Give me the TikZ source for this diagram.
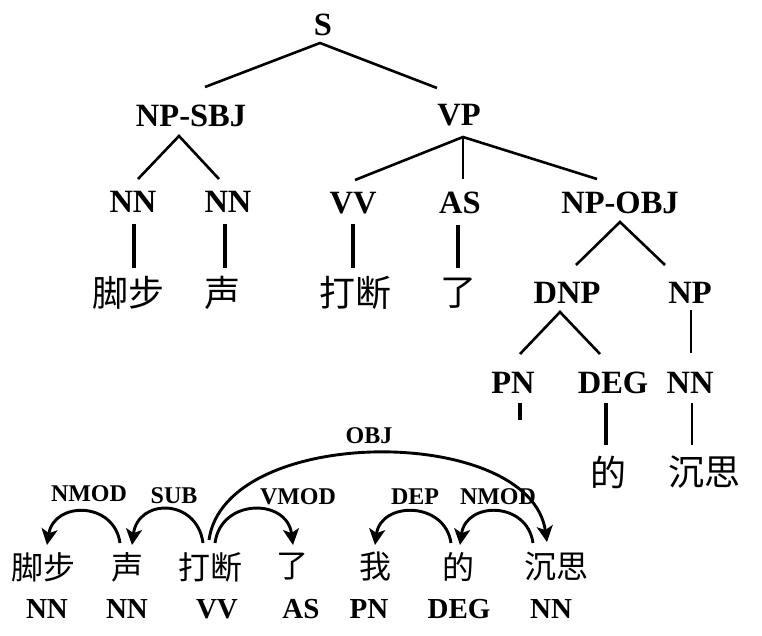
\documentclass[tikz,border=0pt]{standalone}
\usepackage{fontspec}
\setmainfont{Liberation Serif}
\newfontfamily\cjk{Noto Sans CJK SC}
\usetikzlibrary{arrows.meta}
\begin{document}
\begin{tikzpicture}[x=1pt,y=-1pt,
 cat/.style={font=\bfseries\fontsize{32.5}{32.5}\selectfont, inner sep=0pt, outer sep=0pt, anchor=base},
 postag/.style={font=\bfseries\fontsize{29}{29}\selectfont, inner sep=0pt, outer sep=0pt, anchor=base},
 rel/.style={font=\bfseries\fontsize{24}{24}\selectfont, inner sep=0pt, outer sep=0pt, anchor=base},
 hz/.style={font=\cjk\fontsize{36}{36}\selectfont, inner sep=0pt, outer sep=0pt, anchor=center},
 hzb/.style={font=\cjk\fontsize{32}{32}\selectfont, inner sep=0pt, outer sep=0pt, anchor=center},
 branch/.style={line width=2.6pt},
 stem/.style={line width=3.2pt},
 deparc/.style={line width=2.9pt, -{Stealth[length=16pt,width=16pt,inset=4pt]}},
]
\useasboundingbox[fill=white] (0,0) rectangle (762,635);

% ---------- constituency tree ----------
\node[cat] (S) at (323,35) {S};
\node[cat] (NPSBJ) at (191,126) {NP-SBJ};
\node[cat] (VP) at (459,125) {VP};
\node[cat] (NN1) at (133,212) {NN};
\node[cat] (NN2) at (228,212) {NN};
\node[cat] (VV) at (353,213) {VV};
\node[cat] (AS) at (460,213) {AS};
\node[cat] (NPOBJ) at (620,213) {NP-OBJ};
\node[hz] (t1) at (128,293) {脚步};
\node[hz] (t2) at (222,293) {声};
\node[hz] (t3) at (355,293) {打断};
\node[hz] (t4) at (458,293) {了};
\node[cat] (DNP) at (567,303) {DNP};
\node[cat] (NP) at (690,303) {NP};
\node[cat] (PN) at (513,393) {PN};
\node[cat] (DEG) at (613,393) {DEG};
\node[cat] (NN3) at (690,393) {NN};
\node[hz] (t6) at (608,472) {的};
\node[hz] (t7) at (704,472) {沉思};
\coordinate (PNstub) at (520,420);

\draw[branch] ([shift={(14,-39)}]NPSBJ.base) -- ([shift={(-3,8)}]S.base) -- ([shift={(-22,-37)}]VP.base);
\draw[branch] ([shift={(5,-33)}]NN1.base) -- ([shift={(-12,10)}]NPSBJ.base) -- ([shift={(-9,-33)}]NN2.base);
\draw[branch] ([shift={(2,-33)}]VV.base) -- ([shift={(4,12)}]VP.base) -- ([shift={(-23,-34)}]NPOBJ.base);
\draw[branch] ([shift={(4,12)}]VP.base) -- ([shift={(3,-34)}]AS.base);
\draw[branch] ([shift={(9,-38)}]DNP.base) -- ([shift={(0,9)}]NPOBJ.base) -- ([shift={(-25,-38)}]NP.base);
\draw[branch] ([shift={(7,-39)}]PN.base) -- ([shift={(-7,9)}]DNP.base) -- ([shift={(-13,-39)}]DEG.base);

\draw[stem] ([shift={(1,12)}]NN1.base) -- ([shift={(6,-25)}]t1.center);
\draw[stem] ([shift={(-3,12)}]NN2.base) -- ([shift={(3,-25)}]t2.center);
\draw[stem] ([shift={(0,11)}]VV.base) -- ([shift={(-2,-25)}]t3.center);
\draw[stem] ([shift={(-2,12)}]AS.base) -- ([shift={(0,-25)}]t4.center);
\draw[branch] ([shift={(1,7)}]NP.base) -- ([shift={(1,-40)}]NN3.base);
\draw[stem] ([shift={(7,10)}]PN.base) -- (PNstub);
\draw[stem] ([shift={(-7,10)}]DEG.base) -- ([shift={(-2,-27)}]t6.center);
\draw[branch] ([shift={(2,10)}]NN3.base) -- ([shift={(-12,-27)}]t7.center);

% ---------- dependency structure ----------
\node[hzb] (w1) at (43,567) {脚步};
\node[hzb] (w2) at (127,567) {声};
\node[hzb] (w3) at (210,567) {打断};
\node[hzb] (w4) at (292,567) {了};
\node[hzb] (w5) at (375,567) {我};
\node[hzb] (w6) at (458,567) {的};
\node[hzb] (w7) at (556,567) {沉思};

\node[postag] (p1) at (47,618) {NN};
\node[postag] (p2) at (127,618) {NN};
\node[postag] (p3) at (217,618) {VV};
\node[postag] (p4) at (301,618) {AS};
\node[postag] (p5) at (369,618) {PN};
\node[postag] (p6) at (459,618) {DEG};
\node[postag] (p7) at (551,618) {NN};

\node[rel] (r1) at (89,501) {NMOD};
\node[rel] (r2) at (174,503) {SUB};
\node[rel] (r3) at (298,504) {VMOD};
\node[rel] (r4) at (415,504) {DEP};
\node[rel] (r5) at (498,504) {NMOD};
\node[rel] (r6) at (369,443) {OBJ};

\draw[deparc] ([shift={(-7,-24)}]w2.center) .. controls +(-6,-42) and +(7,-44) .. ([shift={(4,-22)}]w1.center);
\draw[deparc] ([shift={(-7,-24)}]w3.center) .. controls +(-6,-45) and +(6,-47) .. ([shift={(5,-22)}]w2.center);
\draw[deparc] ([shift={(5,-24)}]w3.center) .. controls +(6,-45) and +(-6,-47) .. ([shift={(1,-22)}]w4.center);
\draw[deparc] ([shift={(-7,-24)}]w6.center) .. controls +(-6,-42) and +(6,-44) .. ([shift={(0,-22)}]w5.center);
\draw[deparc] ([shift={(-23,-24)}]w7.center) .. controls +(-6,-42) and +(6,-44) .. ([shift={(2,-22)}]w6.center);
\draw[deparc] ([shift={(-1,-27)}]w3.center) .. controls +(16,-116) and +(-17,-118) .. ([shift={(-9,-25)}]w7.center);
\end{tikzpicture}
\end{document}
